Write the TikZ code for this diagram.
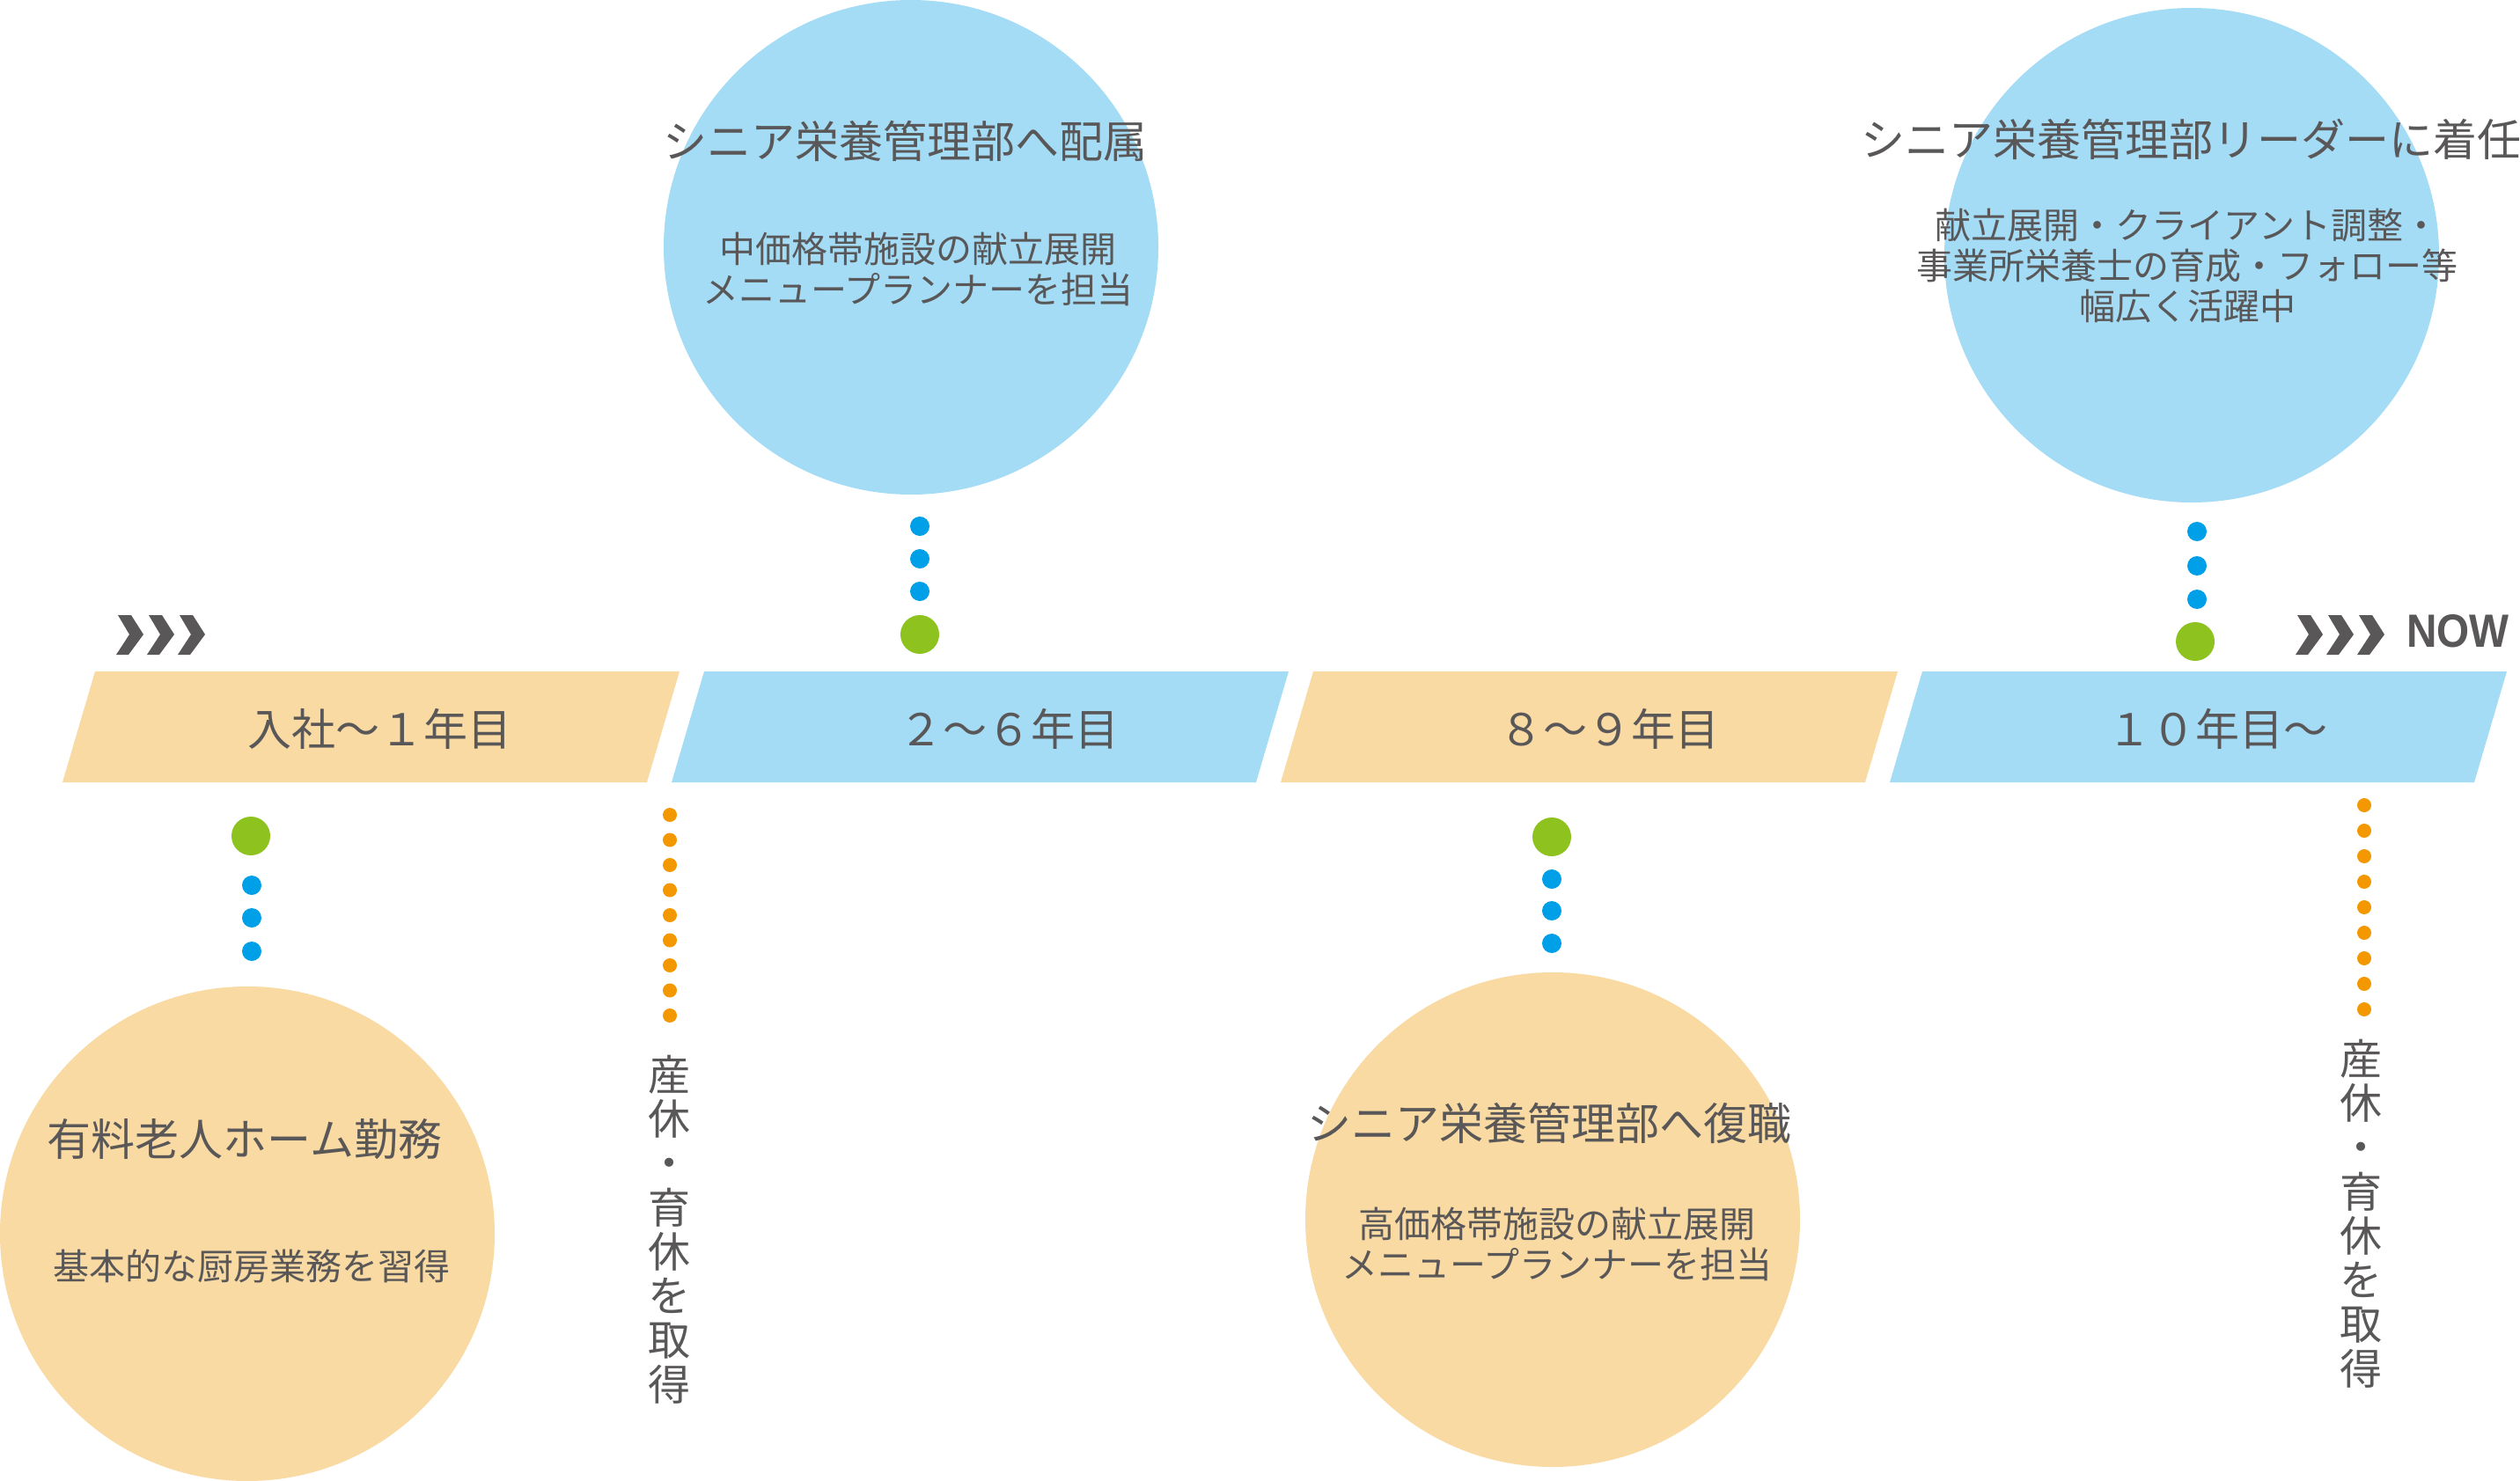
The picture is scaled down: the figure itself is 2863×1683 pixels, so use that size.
\documentclass[tikz,border=0pt]{standalone}
\usepackage{fontspec}
\newfontfamily\jp{Noto Sans CJK JP}
\newfontfamily\nowfont{Liberation Sans}
\definecolor{bandorange}{HTML}{F9DAA3}
\definecolor{bandblue}{HTML}{A4DCF6}
\definecolor{txtgray}{HTML}{595757}
\definecolor{dotgreen}{HTML}{8DC21F}
\definecolor{dotblue}{HTML}{00A0E9}
\definecolor{dotorange}{HTML}{F39800}
\tikzset{
 dotb/.style={circle,inner sep=0pt,minimum size=22pt,fill=dotblue},
 dotg/.style={circle,inner sep=0pt,minimum size=44pt,fill=dotgreen},
 doto/.style={circle,inner sep=0pt,minimum size=16pt,fill=dotorange},
 bigo/.style={circle,inner sep=0pt,minimum size=562pt,fill=bandorange},
 bigb/.style={circle,inner sep=0pt,minimum size=562pt,fill=bandblue},
 ttl/.style={text=txtgray,font=\jp\fontsize{50}{60}\selectfont,inner sep=0pt},
 subtxt/.style={text=txtgray,font=\jp\fontsize{41}{46}\selectfont,align=center,inner sep=0pt},
 bandlbl/.style={text=txtgray,font=\jp\fontsize{50}{60}\selectfont,inner sep=0pt},
 verttxt/.style={text=txtgray,font=\jp\fontsize{48}{50.3}\selectfont,align=center,inner sep=0pt},
 chev/.style={fill=txtgray}
}
\begin{document}
\begin{tikzpicture}[x=1pt,y=-1pt]
\useasboundingbox (0,0) rectangle (2863,1683);
\fill[white] (0,0) rectangle (2863,1683);
\begin{scope}
\clip (0,0) rectangle (2863,1683);
% big circles
\node[bigb] (c2) at (1035,281) {};
\node[bigb] (c4) at (2490,290) {};
\node[bigo] (c1) at (281,1402) {};
\node[bigo] (c3) at (1764,1386) {};
\end{scope}

% bands
\fill[bandorange] (108,763) -- (772,763) -- (735,889) -- (71,889) -- cycle;
\fill[bandblue] (800,763) -- (1464,763) -- (1427,889) -- (763,889) -- cycle;
\fill[bandorange] (1492,763) -- (2156,763) -- (2119,889) -- (1455,889) -- cycle;
\fill[bandblue] (2184,763) -- (2848,763) -- (2811,889) -- (2147,889) -- cycle;
\node[bandlbl] (b1) at (431,828) {入社～１年目};
\node[bandlbl] (b2) at (1146,828) {２～６年目};
\node[bandlbl] (b3) at (1828,828) {８～９年目};
\node[bandlbl] (b4) at (2519,828) {１０年目～};

% chevrons
\foreach \x in {132,167,202,2608,2643,2678}{
 \fill[chev] ({\x+2},699) -- ({\x+17},699) -- ({\x+31},721) -- ({\x+14},744) -- (\x,744) -- ({\x+15},721) -- cycle;
}
\node[text=txtgray,font=\nowfont\bfseries\fontsize{53}{60}\selectfont,anchor=west,inner sep=0pt] (now) at (2734,717) {\scalebox{0.9}[1]{NOW}};

% dot groups
\node[dotb] (d2a) at (1045,598) {};
\node[dotb] (d2b) at (1045,635) {};
\node[dotb] (d2c) at (1045,672) {};
\node[dotg] (g2) at (1045,721) {};

\node[dotb] (d4a) at (2496,604) {};
\node[dotb] (d4b) at (2496,643) {};
\node[dotb] (d4c) at (2496,681) {};
\node[dotg] (g4) at (2494,729) {};

\node[dotg] (g1) at (285,950) {};
\node[dotb] (d1a) at (286,1006) {};
\node[dotb] (d1b) at (286,1043) {};
\node[dotb] (d1c) at (286,1081) {};

\node[dotg] (g3) at (1763,951) {};
\node[dotb] (d3a) at (1763,999) {};
\node[dotb] (d3b) at (1763,1035) {};
\node[dotb] (d3c) at (1763,1072) {};

% orange dotted lines
\foreach \i in {0,...,8}{
 \node[doto] (oa\i) at (761,{926+28.5*\i}) {};
 \node[doto] (ob\i) at (2686,{915+29*\i}) {};
}
\node[verttxt] (v1) at (760,1397) {産\\休\\・\\育\\休\\を\\取\\得};
\node[verttxt] (v2) at (2682,1379) {産\\休\\・\\育\\休\\を\\取\\得};

% circle texts
\node[ttl] (t2) at (1028,160) {シニア栄養管理部へ配属};
\node[subtxt] (s2) at (1043,306) {中価格帯施設の献立展開\\メニュープランナーを担当};

\node[ttl] (t4) at (2489,158) {シニア栄養管理部リーダーに着任};
\node[subtxt] (s4) at (2485,302) {献立展開・クライアント調整・\\事業所栄養士の育成・フォロー等\\幅広く活躍中};

\node[ttl] (t1) at (278,1295) {有料老人ホーム勤務};
\node[subtxt] (s1) at (286,1439) {基本的な厨房業務を習得};

\node[ttl] (t3) at (1760,1276) {シニア栄養管理部へ復職};
\node[subtxt] (s3) at (1769,1414) {高価格帯施設の献立展開\\メニュープランナーを担当};
\end{tikzpicture}
\end{document}
